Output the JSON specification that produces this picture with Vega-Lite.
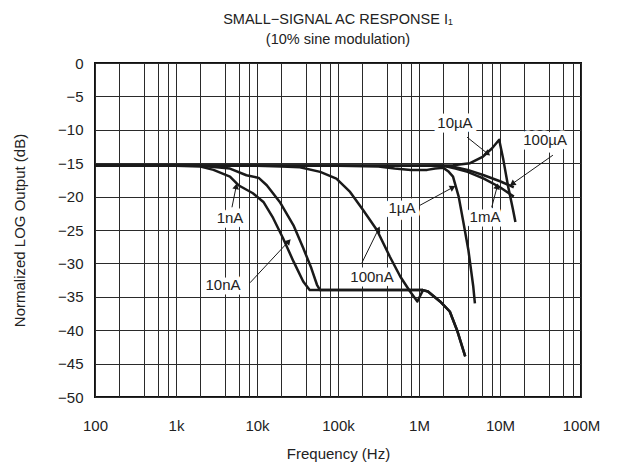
{
  "$schema": "https://vega.github.io/schema/vega-lite/v6.json",
  "width": 486,
  "height": 334,
  "autosize": {"type": "none"},
  "padding": {"left": 95, "top": 63, "right": 37, "bottom": 71},
  "background": "white",
  "title": {
    "text": "SMALL−SIGNAL AC RESPONSE I₁",
    "subtitle": "(10% sine modulation)",
    "font": "Liberation Sans",
    "fontSize": 14.5,
    "fontWeight": "normal",
    "color": "#222",
    "subtitleFont": "Liberation Sans",
    "subtitleFontSize": 14.5,
    "subtitleColor": "#222",
    "subtitlePadding": 5,
    "offset": 9,
    "anchor": "middle"
  },
  "config": {
    "font": "Liberation Sans",
    "view": {"stroke": "#111", "strokeWidth": 2},
    "axis": {
      "domain": false,
      "ticks": false,
      "grid": true,
      "gridColor": "#2a2a2a",
      "gridOpacity": 1,
      "gridWidth": 1,
      "labelFont": "Liberation Sans",
      "labelFontSize": 15,
      "labelColor": "#222",
      "titleFont": "Liberation Sans",
      "titleFontSize": 15,
      "titleFontWeight": "normal",
      "titleColor": "#222"
    }
  },
  "datasets": {
    "curves": [
      {"series": "1nA", "f": 100, "db": -15.4},
      {"series": "1nA", "f": 1000, "db": -15.4},
      {"series": "1nA", "f": 2000, "db": -15.5},
      {"series": "1nA", "f": 2900, "db": -16.0},
      {"series": "1nA", "f": 4640, "db": -17.0},
      {"series": "1nA", "f": 5900, "db": -18.3},
      {"series": "1nA", "f": 8900, "db": -19.5},
      {"series": "1nA", "f": 12000, "db": -20.8},
      {"series": "1nA", "f": 15800, "db": -23.2},
      {"series": "1nA", "f": 20900, "db": -26.2},
      {"series": "1nA", "f": 28200, "db": -29.7},
      {"series": "1nA", "f": 37200, "db": -32.7},
      {"series": "1nA", "f": 44700, "db": -34.0},
      {"series": "1nA", "f": 100000, "db": -34.0},
      {"series": "1nA", "f": 500000, "db": -34.0},
      {"series": "1nA", "f": 850000, "db": -34.0},
      {"series": "1nA", "f": 1120000, "db": -34.0},
      {"series": "1nA", "f": 1290000, "db": -34.2},
      {"series": "1nA", "f": 1820000, "db": -35.7},
      {"series": "1nA", "f": 2400000, "db": -37.2},
      {"series": "1nA", "f": 2950000, "db": -40.0},
      {"series": "1nA", "f": 3720000, "db": -43.9},
      {"series": "10nA", "f": 100, "db": -15.4},
      {"series": "10nA", "f": 2000, "db": -15.4},
      {"series": "10nA", "f": 4640, "db": -15.8},
      {"series": "10nA", "f": 7400, "db": -16.8},
      {"series": "10nA", "f": 10500, "db": -17.2},
      {"series": "10nA", "f": 13200, "db": -18.3},
      {"series": "10nA", "f": 19100, "db": -20.8},
      {"series": "10nA", "f": 28200, "db": -24.3},
      {"series": "10nA", "f": 37200, "db": -27.7},
      {"series": "10nA", "f": 46800, "db": -30.7},
      {"series": "10nA", "f": 55000, "db": -33.2},
      {"series": "10nA", "f": 60000, "db": -34.0},
      {"series": "10nA", "f": 100000, "db": -34.0},
      {"series": "10nA", "f": 850000, "db": -34.0},
      {"series": "10nA", "f": 1120000, "db": -34.0},
      {"series": "100nA", "f": 100, "db": -15.4},
      {"series": "100nA", "f": 10000, "db": -15.4},
      {"series": "100nA", "f": 20000, "db": -15.5},
      {"series": "100nA", "f": 33900, "db": -15.6},
      {"series": "100nA", "f": 60300, "db": -16.3},
      {"series": "100nA", "f": 95500, "db": -17.3},
      {"series": "100nA", "f": 141000, "db": -19.3},
      {"series": "100nA", "f": 204000, "db": -22.0},
      {"series": "100nA", "f": 302000, "db": -25.0},
      {"series": "100nA", "f": 437000, "db": -29.0},
      {"series": "100nA", "f": 589000, "db": -32.0},
      {"series": "100nA", "f": 776000, "db": -34.2},
      {"series": "100nA", "f": 955000, "db": -35.7},
      {"series": "100nA", "f": 1120000, "db": -34.0},
      {"series": "100nA", "f": 1290000, "db": -34.2},
      {"series": "100nA", "f": 1820000, "db": -35.7},
      {"series": "100nA", "f": 2400000, "db": -37.2},
      {"series": "100nA", "f": 2950000, "db": -40.0},
      {"series": "100nA", "f": 3720000, "db": -43.9},
      {"series": "1µA", "f": 100, "db": -15.4},
      {"series": "1µA", "f": 100000, "db": -15.4},
      {"series": "1µA", "f": 316000, "db": -15.5},
      {"series": "1µA", "f": 500000, "db": -15.8},
      {"series": "1µA", "f": 794000, "db": -16.0},
      {"series": "1µA", "f": 1260000, "db": -16.0},
      {"series": "1µA", "f": 1580000, "db": -15.8},
      {"series": "1µA", "f": 2000000, "db": -15.7},
      {"series": "1µA", "f": 2290000, "db": -16.2},
      {"series": "1µA", "f": 2630000, "db": -17.0},
      {"series": "1µA", "f": 3090000, "db": -20.0},
      {"series": "1µA", "f": 3550000, "db": -24.0},
      {"series": "1µA", "f": 4070000, "db": -28.0},
      {"series": "1µA", "f": 4680000, "db": -33.5},
      {"series": "1µA", "f": 4900000, "db": -36.0},
      {"series": "10µA", "f": 100, "db": -15.4},
      {"series": "10µA", "f": 1000000, "db": -15.4},
      {"series": "10µA", "f": 2630000, "db": -15.3},
      {"series": "10µA", "f": 4270000, "db": -15.0},
      {"series": "10µA", "f": 6170000, "db": -14.0},
      {"series": "10µA", "f": 7940000, "db": -12.8},
      {"series": "10µA", "f": 9770000, "db": -11.5},
      {"series": "10µA", "f": 11000000, "db": -14.5},
      {"series": "10µA", "f": 12600000, "db": -18.5},
      {"series": "10µA", "f": 14500000, "db": -22.0},
      {"series": "10µA", "f": 15500000, "db": -23.8},
      {"series": "100µA", "f": 100, "db": -15.4},
      {"series": "100µA", "f": 2000000, "db": -15.4},
      {"series": "100µA", "f": 2820000, "db": -15.6},
      {"series": "100µA", "f": 3980000, "db": -16.0},
      {"series": "100µA", "f": 6310000, "db": -16.8},
      {"series": "100µA", "f": 10000000, "db": -17.7},
      {"series": "100µA", "f": 14800000, "db": -18.6},
      {"series": "1mA", "f": 100, "db": -15.4},
      {"series": "1mA", "f": 2000000, "db": -15.4},
      {"series": "1mA", "f": 2820000, "db": -15.8},
      {"series": "1mA", "f": 3980000, "db": -16.3},
      {"series": "1mA", "f": 6310000, "db": -17.3},
      {"series": "1mA", "f": 10000000, "db": -18.6},
      {"series": "1mA", "f": 14800000, "db": -20.0}
    ],
    "arrows": [
      {"label": "1nA", "f": 5508, "db": -18.6, "f2": 4909, "db2": -21.6, "angle": 11},
      {"label": "10nA", "f": 24150, "db": -26.8, "f2": 8200, "db2": -32.9, "angle": 43},
      {"label": "100nA", "f": 312000, "db": -25.0, "f2": 197700, "db2": -29.9, "angle": 26},
      {"label": "1µA", "f": 2550000, "db": -18.7, "f2": 1028000, "db2": -21.3, "angle": 62},
      {"label": "10µA", "f": 6920000, "db": -13.5, "f2": 3920000, "db2": -11.1, "angle": 129},
      {"label": "100µA", "f": 14500000, "db": -18.0, "f2": 45000000, "db2": -13.8, "angle": 235},
      {"label": "1mA", "f": 9180000, "db": -18.6, "f2": 7900000, "db2": -21.6, "angle": 14}
    ],
    "labels": [
      {"label": "1nA", "f": 4642, "db": -23.2},
      {"label": "10nA", "f": 3802, "db": -33.2},
      {"label": "100nA", "f": 263000, "db": -32.0},
      {"label": "1µA", "f": 617000, "db": -21.7},
      {"label": "10µA", "f": 2780000, "db": -9.0},
      {"label": "100µA", "f": 36000000, "db": -11.5},
      {"label": "1mA", "f": 6530000, "db": -23.1}
    ]
  },
  "encoding": {
    "x": {
      "field": "f",
      "type": "quantitative",
      "scale": {"type": "log", "domain": [100, 100000000]},
      "axis": {
        "title": "Frequency (Hz)",
        "values": [100, 200, 400, 600, 800, 1000, 2000, 4000, 6000, 8000, 10000, 20000, 40000, 60000, 80000, 100000, 200000, 400000, 600000, 800000, 1000000, 2000000, 4000000, 6000000, 8000000, 10000000, 20000000, 40000000, 60000000, 80000000, 100000000],
        "labelExpr": "datum.value == 100 ? '100' : datum.value == 1000 ? '1k' : datum.value == 10000 ? '10k' : datum.value == 100000 ? '100k' : datum.value == 1000000 ? '1M' : datum.value == 10000000 ? '10M' : datum.value == 100000000 ? '100M' : ''",
        "labelOverlap": false,
        "labelFlush": false,
        "labelPadding": 21,
        "titlePadding": 13
      }
    },
    "y": {
      "field": "db",
      "type": "quantitative",
      "scale": {"domain": [-50, 0], "nice": false, "zero": false},
      "axis": {
        "title": "Normalized LOG Output (dB)",
        "values": [-50, -45, -40, -35, -30, -25, -20, -15, -10, -5, 0],
        "labelOverlap": false,
        "labelFlush": false,
        "labelPadding": 12,
        "titlePadding": 30
      }
    }
  },
  "layer": [
    {
      "data": {"name": "curves"},
      "mark": {"type": "line", "color": "#1a1a1a", "strokeWidth": 2.5, "strokeJoin": "round"},
      "encoding": {"detail": {"field": "series"}}
    },
    {
      "data": {"name": "arrows"},
      "mark": {"type": "rule", "color": "#1a1a1a", "strokeWidth": 1},
      "encoding": {
        "x2": {"field": "f2"},
        "y2": {"field": "db2"}
      }
    },
    {
      "data": {"name": "arrows"},
      "mark": {"type": "point", "shape": "triangle", "filled": true, "color": "#1a1a1a", "size": 45, "opacity": 1},
      "encoding": {
        "angle": {"field": "angle", "type": "quantitative", "scale": null}
      }
    },
    {
      "data": {"name": "labels"},
      "mark": {"type": "text", "fontSize": 15, "stroke": "white", "strokeWidth": 9, "strokeJoin": "round", "color": "white", "align": "center", "baseline": "middle"},
      "encoding": {"text": {"field": "label"}}
    },
    {
      "data": {"name": "labels"},
      "mark": {"type": "text", "fontSize": 15, "color": "#222", "align": "center", "baseline": "middle"},
      "encoding": {"text": {"field": "label"}}
    }
  ]
}
